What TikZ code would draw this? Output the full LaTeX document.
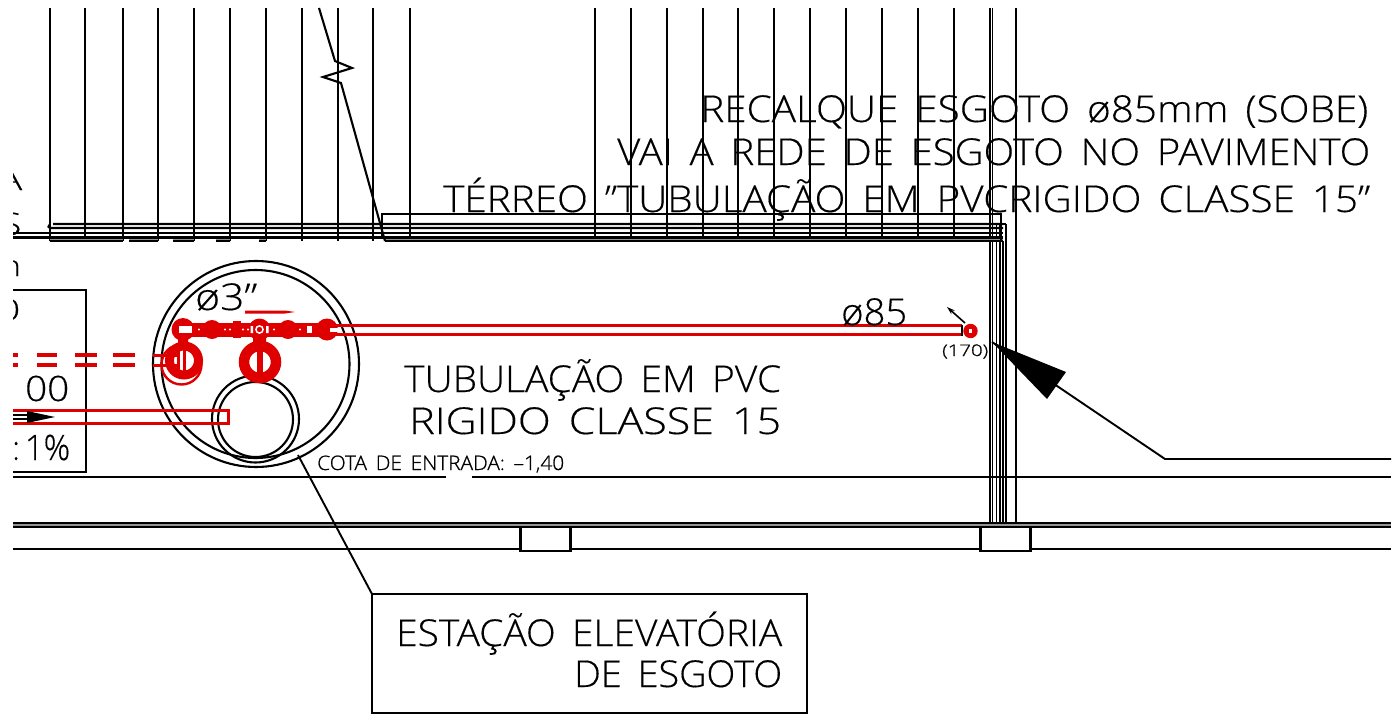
\documentclass[tikz,border=0pt]{standalone}
\usepackage{graphicx}
\usepackage{fontspec}
\newfontfamily\cad{Open Sans}[UprightFont={* Light},UprightFeatures={FakeBold=0.3}]
\newfontfamily\cadb{Open Sans}[UprightFont={* Light},UprightFeatures={FakeBold=0.9}]
\usetikzlibrary{arrows.meta}
\definecolor{cadred}{RGB}{222,0,0}
\newcommand{\gp}{\hspace{.42em}}
% \fitted{fontsize}{width}{text}
\newcommand{\fitted}[3]{\resizebox{#2pt}{\height}{\fontsize{#1pt}{#1pt}\selectfont\cad #3}}
\newcommand{\fittedb}[3]{\resizebox{#2pt}{\height}{\fontsize{#1pt}{#1pt}\selectfont\cadb #3}}
\tikzset{
  cadline/.style={line width=2.1pt,black},
  wall/.style={line width=1.6pt,black},
  redl/.style={line width=3pt,cadred},
  txt/.style={inner sep=0pt,anchor=base west,text=black},
  slabgray/.style={fill=black!42,draw=none},
  boxed/.style={draw,cadline,inner sep=0pt,outer sep=0pt,anchor=north west}
}
\begin{document}
\begin{tikzpicture}[x=1pt,y=-1pt]
\useasboundingbox (0,0) rectangle (1398,720);
% verticals
\foreach \x in {50,85,123,158,194,230,266,302,338,373,410,595,631,667,703,738,774,810,846,882,918,954}
  \draw[cadline] (\x,8) -- (\x,241);
\draw[wall] (990,8) -- (990,525);
\draw[wall] (992.5,8) -- (992.5,525);
\draw[cadline] (1016,8) -- (1016,525);
\draw[wall] (996.5,224) -- (996.5,525);
\draw[wall] (1000,224) -- (1000,525);
\draw[wall] (1003,241) -- (1003,525);
\draw[cadline] (1006,224) -- (1006,525);
% slab
\fill[slabgray] (385,236) rectangle (1003,241);
\foreach \a/\b in {50/123,129/158,173/194,216/230,259/266}
  \fill[slabgray] (\a,237) rectangle (\b,241);
\draw[cadline] (53,224) -- (1003,224) (50,224) .. controls (48,226) and (48,228) .. (50,228) -- (1003,228);
\draw[cadline] (13,233) -- (1003,233);
\draw[cadline] (13,237.5) -- (1003,237.5);
\draw[cadline] (50,241) -- (123,241) (129,241) -- (158,241) (173,241) -- (194,241) (216,241) -- (230,241) (259,241) -- (266,241) (385,241) -- (1003,241);
\draw[cadline] (382,236) -- (382,214) -- (1001,214) -- (1001,241);
\draw[cadline] (1003,224) -- (1006,224);
% break line
\draw[cadline] (319,8) -- (335,61) -- (352,68) -- (323,77) -- (341,83) -- (385,241);
% bottom
\draw[cadline] (13,477) -- (446,477) (472,477) -- (1391,477);
\fill[slabgray] (13,523) rectangle (1391,527);
\draw[cadline] (13,523) -- (1391,523);
\draw[cadline] (13,527) -- (1391,527);
\draw[cadline] (13,549) -- (520,549) (571,549) -- (980,549) (1030,549) -- (1391,549);
\node[boxed,fill=white,minimum width=50pt,minimum height=24pt] (footA) at (520.5,527) {};
\node[boxed,fill=white,minimum width=50pt,minimum height=24pt] (footB) at (980.5,527) {};
% left box
\draw[cadline] (13,290) -- (86,290) -- (86,472) -- (13,472);
% circles
\node[draw,cadline,circle,minimum size=206pt,inner sep=0pt] (outer) at (256,364) {};
\node[draw,cadline,circle,minimum size=188pt,inner sep=0pt] (inner) at (255.5,364) {};
\node[draw,cadline,circle,minimum size=87pt,inner sep=0pt] (wellA) at (255.5,419) {};
\node[draw,cadline,circle,minimum size=75pt,inner sep=0pt] (wellB) at (255.5,419.5) {};
% red pipes
\draw[redl] (330,325.5) -- (962,325.5) (330,334.5) -- (962,334.5);
\fill[cadred] (180,322.5) rectangle (330,337);
\foreach \x/\r in {183/11.5,212/9.5,288/9.5,327/11}
  \fill[cadred] (\x,329.5) circle (\r);
\fill[cadred] (233,320.5) rectangle (241,338);
\fill[cadred] (259.5,329.5) circle (11);
\fill[white] (179,325.5) rectangle (192,333);
\fill[white] (307,325.5) rectangle (312,333);
\fill[white] (330,328) rectangle (340,332);
\fill[white] (250.5,326) rectangle (253,333) (266,326) rectangle (268.5,333);
\draw[white,line width=1.5pt] (259.5,329.5) circle (3.6);
\foreach \x in {199,225,230,243,248,274,300}
  \fill[white] (\x,329.5) circle (1.1);
\fill[cadred] (178,336) rectangle (188,347) (253,336) rectangle (266,347);
\fill[cadred] (245,310.5) -- (285,310.5) -- (295,312) -- (285,313.5) -- (245,313.5) -- cycle;
% big fittings
\draw[cadred,line width=10.5pt] (260,362) circle (16);
\fill[cadred] (257,350) rectangle (263,373);
\draw[cadred,line width=9pt] (184,360.5) circle (14.5);
\draw[cadred,line width=2.4pt] (181.5,364.5) circle (20);
\fill[cadred] (177,350) rectangle (180,372);
\fill[cadred] (183,350) rectangle (186,375);
\draw[cadred,line width=2.4pt] (170,355) rectangle (178,366);
\draw[cadred,line width=3pt] (153,355) -- (177,355) (153,365) -- (177,365);
% dashes
\foreach \a/\b in {13/18,37/57,75/97,113/135}
  \draw[cadred,line width=3.4pt] (\a,355) -- (\b,355) (\a,365) -- (\b,365);
% lower pipe
\draw[redl] (13,410.5) -- (228.5,410.5) -- (228.5,423.5) -- (13,423.5);
\draw[line width=1.6pt] (13,415) -- (30,415) (13,419) -- (30,419);
\fill (27,411) -- (55,417) -- (27,423) -- cycle;
% end of pipe
\fill[cadred] (970.5,331) circle (7.2);
\fill[white] (969,328.5) rectangle (972,333);
\draw[line width=2.8pt] (962,325) -- (962,336);
\draw[line width=1.6pt,-{Stealth[length=8pt,width=5pt]}] (965,323) -- (947,307);
% leaders
\node[boxed,minimum width=435pt,minimum height=119pt] (box) at (372,594) {};
\coordinate (leadA) at (298,455);
\draw[line width=1.9pt] (leadA) -- (box.north west);
\coordinate (tip) at (992,342);
\coordinate (elbow) at (1165,459);
\coordinate (leadEnd) at (1391,459);
\draw[line width=1.9pt] (tip) -- (elbow) -- (leadEnd);
\fill (tip) -- (1066,372) -- (1047,399) -- cycle;
% clipped letters at the left
\begin{scope}
\clip (13,150) rectangle (40,480);
\node[txt] (la) at (-2,190) {\fitted{29}{24}{A}};
\node[txt] (ls) at (1,235) {\fitted{31}{20}{S}};
\node[txt] (ln) at (-1,276) {\fitted{29}{22}{n}};
\node[txt] (lo) at (-2,320) {\fitted{29}{22}{0}};
\end{scope}
\begin{scope}
\clip (13,370) rectangle (86,470);
\node[txt] (cent) at (25,401) {\fitted{35}{44}{00}};
\node[txt] (slope) at (12,460) {\fitted{35}{58}{:\hspace{.15em}1\%}};
\end{scope}
% texts
\node[txt] (t1) at (700,122) {\fitted{37}{668}{RECALQUE\gp{}ESGOTO\gp{}ø85mm\gp{}(SOBE)}};
\node[txt] (t2) at (617,165) {\fitted{37}{753}{VAI\gp{}A\gp{}REDE\gp{}DE\gp{}ESGOTO\gp{}NO\gp{}PAVIMENTO}};
\node[txt] (t3) at (443,212) {\fitted{37}{927}{TÉRREO\gp{}”TUBULAÇÃO\gp{}EM\gp{}PVCRIGIDO\gp{}CLASSE\gp{}15”}};
\node[txt] (t4) at (841,325) {\fitted{37}{66}{ø85}};
\node[txt] (t5) at (404,392) {\fitted{37}{377}{TUBULAÇÃO\gp{}EM\gp{}PVC}};
\node[txt] (t6) at (409,434) {\fitted{37}{372}{RIGIDO\gp{}CLASSE\gp{}15}};
\node[txt] (t7) at (396,646) {\fitted{37}{386}{ESTAÇÃO\gp{}ELEVATÓRIA}};
\node[txt] (t8) at (574,687) {\fitted{37}{208}{DE\gp{}ESGOTO}};
\node[txt] (t9) at (195,310) {\fitted{37}{62}{ø3”}};
\node[txt] (t10) at (317,470) {\fittedb{20}{247}{COTA\gp{}DE\gp{}ENTRADA:\gp{}–1,40}};
\node[txt] (t11) at (942,356) {\fittedb{16}{46}{(170)}};
\end{tikzpicture}
\end{document}
